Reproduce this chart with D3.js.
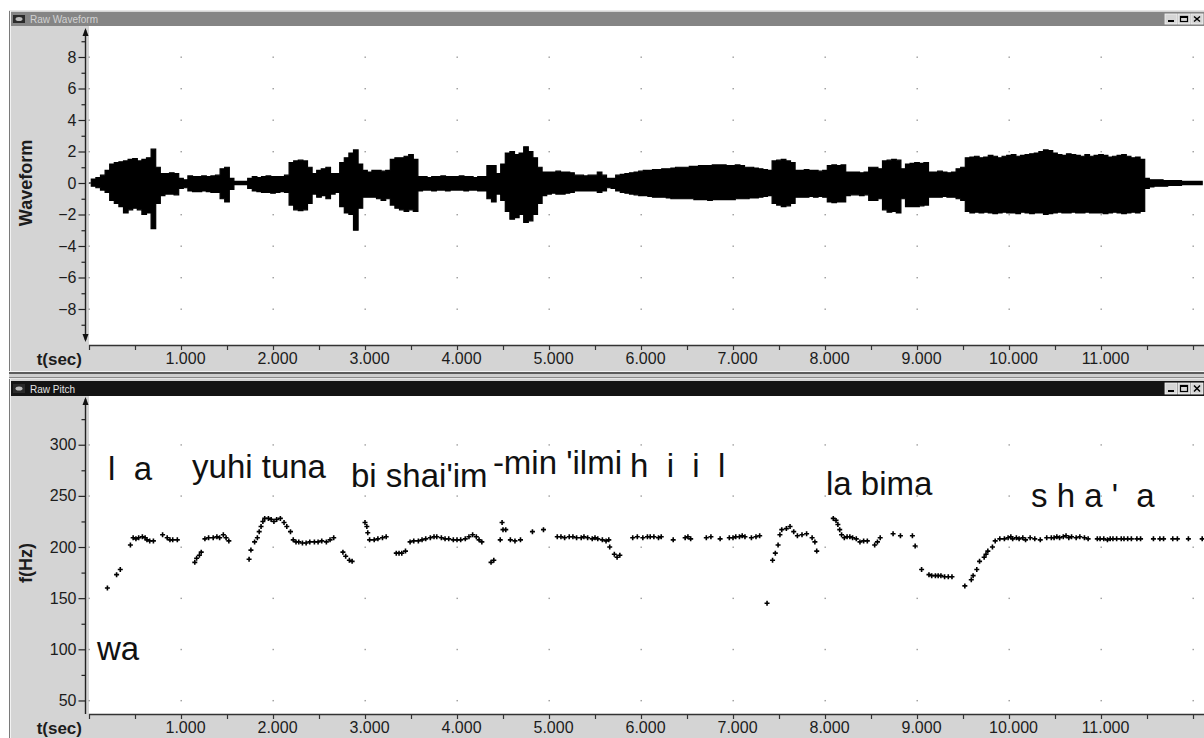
<!DOCTYPE html>
<html>
<head>
<meta charset="utf-8">
<script src="https://cdn.jsdelivr.net/npm/d3@7"></script>
<style>
  html, body { margin: 0; padding: 0; background: #fff; }
  svg { display: block; font-family: "Liberation Sans", Arial, sans-serif; }
  .syll { white-space: pre; }
</style>
</head>
<body>
<svg id="chart" width="1204" height="738"></svg>
<script>
// ---------- data ----------
// waveform envelope, one value every waveStep seconds (positive / negative excursion)
const waveStep = 0.05;
const waveUpper = [
  0, 0.25, 0.35, 0.5, 0.8, 1.2, 1.3, 1.35, 1.4, 1.5,
  1.55, 1.4, 1.5, 1.6, 2.15, 1.0, 0.6, 0.6, 0.65, 0.6,
  0.3, 0.2, 0.45, 0.4, 0.4, 0.45, 0.4, 0.45, 0.5, 0.9,
  1.0, 0.3, 0.1, 0.1, 0.1, 0.3, 0.4, 0.35, 0.4, 0.45,
  0.4, 0.4, 0.4, 0.5, 1.3, 1.4, 1.45, 1.4, 1.0, 0.6,
  0.8, 0.9, 1.0, 0.6, 0.6, 1.3, 1.6, 1.9, 2.1, 1.2,
  0.8, 0.7, 0.8, 0.8, 0.75, 0.8, 1.5, 1.6, 1.6, 1.7,
  1.8, 1.5, 0.4, 0.4, 0.35, 0.4, 0.4, 0.45, 0.4, 0.4,
  0.4, 0.45, 0.4, 0.4, 0.35, 0.4, 0.4, 1.1, 1.1, 0.6,
  1.2, 1.9, 2.0, 1.8, 1.9, 2.3, 2.0, 1.6, 1.0, 0.7,
  0.7, 0.7, 0.75, 0.7, 0.7, 0.65, 0.5, 0.5, 0.45, 0.5,
  0.5, 0.7, 0.5, 0.3, 0.3, 0.5, 0.55, 0.6, 0.65, 0.7,
  0.75, 0.8, 0.8, 0.85, 0.85, 0.9, 0.9, 0.95, 1.0, 1.0,
  1.0, 1.05, 1.05, 1.1, 1.1, 1.1, 1.15, 1.15, 1.15, 1.1,
  1.1, 1.15, 1.1, 1.0, 1.0, 0.95, 0.9, 0.85, 0.8, 1.4,
  1.45, 1.5, 1.4, 1.3, 0.8, 0.8, 0.85, 0.8, 0.8, 0.75,
  0.8, 1.1, 1.15, 1.1, 1.15, 0.7, 0.7, 0.7, 0.65, 0.7,
  1.0, 1.0, 0.9, 1.4, 1.45, 1.5, 1.45, 0.9, 1.2, 1.25,
  1.3, 1.25, 1.3, 0.7, 0.7, 0.75, 0.7, 0.65, 0.7, 0.9,
  1.0, 1.6, 1.65, 1.7, 1.6, 1.65, 1.75, 1.7, 1.6, 1.7,
  1.75, 1.8, 1.7, 1.75, 1.8, 1.85, 1.9, 2.0, 2.1, 2.05,
  1.9, 1.8, 1.75, 1.85, 1.8, 1.75, 1.7, 1.8, 1.7, 1.75,
  1.8, 1.75, 1.65, 1.7, 1.75, 1.8, 1.7, 1.6, 1.65, 1.5,
  0.3, 0.2, 0.2, 0.2, 0.15, 0.15, 0.15, 0.15, 0.1, 0.1,
  0.1, 0.1, 0.1
];
const waveLower = [
  0, 0.2, 0.3, 0.45, 0.6, 1.1, 1.3, 1.5, 1.9, 1.7,
  1.6, 1.7, 2.0, 1.9, 2.9, 1.3, 0.8, 0.7, 0.7, 0.75,
  0.35, 0.3, 0.5, 0.55, 0.55, 0.5, 0.55, 0.6, 0.6, 1.0,
  1.2, 0.4, 0.1, 0.1, 0.1, 0.35, 0.5, 0.55, 0.6, 0.6,
  0.65, 0.6, 0.55, 0.6, 1.4, 1.7, 1.75, 1.7, 1.3, 0.7,
  0.9, 0.8, 1.0, 0.7, 0.6, 1.5, 1.9, 2.0, 3.0, 1.6,
  0.9, 0.9, 0.9, 1.0, 1.1, 1.0, 1.4, 1.6, 1.7, 1.8,
  1.7, 1.8, 0.5, 0.45, 0.45, 0.5, 0.45, 0.45, 0.5, 0.45,
  0.45, 0.45, 0.5, 0.45, 0.45, 0.5, 0.5, 1.0, 1.2, 0.7,
  1.1, 1.8, 2.3, 2.2, 2.0, 2.5, 2.4, 2.0, 1.3, 0.8,
  0.7, 0.65, 0.7, 0.7, 0.65, 0.6, 0.5, 0.5, 0.5, 0.5,
  0.5, 0.6, 0.5, 0.3, 0.35, 0.5, 0.6, 0.65, 0.7, 0.75,
  0.8, 0.8, 0.85, 0.9, 0.9, 0.9, 0.95, 1.0, 1.0, 1.0,
  1.0, 1.0, 1.05, 1.05, 1.05, 1.1, 1.05, 1.05, 1.05, 1.05,
  1.05, 1.0, 1.0, 1.0, 0.95, 0.95, 0.9, 0.85, 0.8, 1.3,
  1.4, 1.5, 1.45, 1.3, 0.9, 0.9, 0.9, 0.85, 0.9, 0.85,
  0.9, 1.2, 1.25, 1.2, 1.2, 0.8, 0.75, 0.75, 0.8, 0.75,
  1.1, 1.1, 1.0, 1.7, 1.85, 1.8, 1.9, 1.0, 1.5, 1.5,
  1.5, 1.45, 1.4, 0.9, 0.9, 0.9, 0.85, 0.9, 0.9, 1.0,
  1.1, 1.8, 1.9, 1.85, 1.9, 1.85, 1.9, 1.95, 1.9, 1.85,
  1.9, 1.9, 1.95, 1.85, 1.9, 1.95, 1.9, 1.9, 2.0, 1.95,
  1.9, 1.85, 1.9, 1.9, 1.85, 1.9, 1.9, 1.85, 1.9, 1.9,
  1.9, 1.95, 1.9, 1.85, 1.9, 1.95, 1.9, 1.85, 1.9, 1.8,
  0.35, 0.25, 0.2, 0.2, 0.2, 0.15, 0.15, 0.15, 0.1, 0.1,
  0.1, 0.1, 0.1
];

// pitch track: time (s) and fundamental frequency (Hz)
const pitchTime = [
  0.20, 0.30, 0.34, 0.45, 0.48, 0.51, 0.54, 0.58, 0.61, 0.63, 0.66, 0.70,
  0.80, 0.85, 0.88, 0.91, 0.96,
  1.15, 1.17, 1.20, 1.22, 1.26, 1.30, 1.35, 1.39, 1.42, 1.46, 1.49, 1.52,
  1.74, 1.76, 1.80, 1.83, 1.85, 1.87, 1.89, 1.91, 1.95, 1.98, 2.01, 2.04, 2.08,
  2.12, 2.15, 2.19, 2.22, 2.25, 2.28, 2.32, 2.36, 2.40, 2.45, 2.49, 2.53, 2.58, 2.62, 2.66,
  2.76, 2.79, 2.83, 2.86,
  3.00, 3.02, 3.03, 3.05, 3.10, 3.14, 3.19, 3.23,
  3.34, 3.37, 3.40, 3.44, 3.49, 3.53, 3.58, 3.62, 3.66, 3.71, 3.75, 3.78, 3.83,
  3.87, 3.91, 3.96, 4.00, 4.04, 4.09, 4.13, 4.17, 4.21, 4.24, 4.27,
  4.37, 4.40,
  4.47, 4.49, 4.50, 4.53, 4.58, 4.63, 4.69, 4.82, 4.94,
  5.09, 5.13, 5.17, 5.22, 5.26, 5.30, 5.35, 5.38, 5.42, 5.47, 5.50, 5.53, 5.58,
  5.62, 5.65, 5.66, 5.71, 5.74, 5.77,
  5.91, 5.96, 6.02, 6.07, 6.10, 6.14, 6.19, 6.22, 6.35, 6.48, 6.51, 6.54,
  6.71, 6.76, 6.86, 6.96, 7.00, 7.03, 7.07, 7.10, 7.13, 7.20, 7.25, 7.29,
  7.37,
  7.43, 7.46, 7.49, 7.51, 7.53, 7.58, 7.62, 7.66, 7.70, 7.75, 7.80, 7.86, 7.89, 7.91,
  8.09, 8.12, 8.14, 8.16, 8.18, 8.21, 8.24, 8.27, 8.30, 8.34, 8.38, 8.42, 8.46,
  8.54, 8.57, 8.60, 8.74, 8.82, 8.95, 8.98,
  9.05, 9.13, 9.16, 9.20, 9.23, 9.26, 9.30, 9.34, 9.38,
  9.52, 9.59, 9.61, 9.65, 9.68, 9.73, 9.75, 9.77, 9.82, 9.85,
  9.90, 9.95, 9.99, 10.02, 10.04, 10.08, 10.11, 10.15, 10.18, 10.23, 10.28, 10.34,
  10.41, 10.46, 10.49, 10.52, 10.55, 10.59, 10.62, 10.65, 10.68, 10.73, 10.77, 10.82, 10.86,
  10.96, 10.99, 11.03, 11.07, 11.10, 11.13, 11.17, 11.22, 11.25, 11.29, 11.33, 11.39, 11.43,
  11.57, 11.64, 11.68, 11.78, 11.83, 11.95, 12.10
];
const pitchHz = [
  160, 173, 178, 202, 209, 208, 209, 210, 209, 207, 206, 206,
  212, 209, 207, 207, 207,
  185, 189, 192, 195, 208, 209, 209, 210, 209, 212, 209, 206,
  188, 197, 205, 209, 215, 220, 225, 228, 228, 227, 225, 227, 228,
  224, 220, 215, 207, 205, 205, 204, 204, 205, 205, 205, 206, 205, 207, 209,
  195, 191, 187, 186,
  224, 220, 214, 207, 207, 208, 209, 210,
  194, 194, 194, 196, 205, 206, 206, 207, 208, 209, 210, 210, 209,
  208, 208, 207, 207, 207, 208, 210, 212, 210, 207, 205,
  185, 187,
  207, 224, 217, 217, 207, 206, 207, 215, 217,
  210, 210, 209, 210, 210, 209, 209, 210, 209, 208, 209, 208, 207,
  206, 207, 200, 193, 190, 192,
  209, 210, 209, 210, 210, 210, 209, 210, 207, 209, 210, 208,
  209, 210, 208, 209, 209, 210, 210, 211, 210, 209, 210, 211,
  145,
  187, 194, 202, 212, 217, 218, 220, 215, 211, 212, 213, 209, 205, 196,
  228, 226, 222, 217, 212, 209, 210, 210, 209, 208, 205, 206, 206,
  202, 205, 209, 213, 211, 211, 201,
  178, 173, 172, 172, 172, 172, 171, 171, 171,
  162, 168, 172, 178, 186, 190, 193, 196, 200, 206,
  208, 208, 209, 210, 208, 209, 208, 209, 207, 209, 208, 207,
  209, 209, 209, 210, 209, 210, 211, 209, 210, 209, 210, 209, 208,
  208, 208, 208, 207, 208, 208, 208, 208, 208, 208, 208, 208, 208,
  208, 208, 208, 208, 208, 208, 208
];

// syllable annotations: text, start time (s), baseline (Hz)
const syllables     = ["l  a", "yuhi tuna", "bi shai'im", "-min 'ilmi", "h  i  i  l", "la bima", "s h a '  a", "wa"];
const syllableTime  = [0.207, 1.120, 2.848, 4.390, 5.880, 8.011, 10.239, 0.087];
const syllableHz    = [265.5, 267.4, 259.0, 271.4, 268.4, 250.8, 239.1, 89.5];

// axis ticks
const timeTicks  = [1, 2, 3, 4, 5, 6, 7, 8, 9, 10, 11];
const timeMinor  = [0, 0.5, 1.5, 2.5, 3.5, 4.5, 5.5, 6.5, 7.5, 8.5, 9.5, 10.5, 11.5, 12];
const gridTimes  = [0, 1, 2, 3, 4, 5, 6, 7, 8, 9, 10, 11, 12];
const waveTicks  = [-8, -6, -4, -2, 0, 2, 4, 6, 8];
const waveMinor  = [-9, -7, -5, -3, -1, 1, 3, 5, 7, 9];
const pitchTicks = [50, 100, 150, 200, 250, 300];
const pitchMinor = [75, 125, 175, 225, 275, 325];

// ---------- layout ----------
const W = 1204, H = 738;
const plotLeft = 89, pxPerSec = 92;
const axisX = 85.5;
const svg = d3.select("#chart");

const x = d3.scaleLinear().domain([0, (W - plotLeft) / pxPerSec]).range([plotLeft, W]);
const yWave = d3.scaleLinear().domain([-10, 10]).range([340.5, 25.5]);
const yPitch = d3.scaleLinear().domain([40, 340]).range([710.7, 403.8]);

const panelGray = "#d4d4d4";

// ---------- window chrome ----------
function drawWindow(g, cfg) {
  // client area
  g.append("rect").attr("x", 9).attr("y", cfg.top).attr("width", W - 9).attr("height", cfg.bottom - cfg.top)
    .attr("fill", panelGray);
  g.append("line").attr("x1", 9.5).attr("x2", 9.5).attr("y1", cfg.top).attr("y2", cfg.bottom)
    .attr("stroke", "#7a7a7a");
  g.append("line").attr("x1", 10.5).attr("x2", 10.5).attr("y1", cfg.top).attr("y2", cfg.bottom)
    .attr("stroke", "#f2f2f2");
  g.append("line").attr("x1", 9).attr("x2", W).attr("y1", cfg.top + 0.5).attr("y2", cfg.top + 0.5)
    .attr("stroke", "#e6e6e6");
  // title bar
  g.append("rect").attr("x", 11).attr("y", cfg.titleY).attr("width", W - 11).attr("height", cfg.titleH)
    .attr("fill", cfg.barColor);
  // window icon
  g.append("rect").attr("x", 13).attr("y", cfg.titleY + 3).attr("width", 12).attr("height", cfg.titleH - 6)
    .attr("fill", "#2a2a2a");
  g.append("ellipse").attr("cx", 19).attr("cy", cfg.titleY + cfg.titleH / 2).attr("rx", 3.5).attr("ry", 2)
    .attr("fill", "#bdbdbd");
  g.append("text").attr("x", 30).attr("y", cfg.titleY + cfg.titleH - 3.5)
    .attr("font-size", 10).attr("fill", cfg.textColor).text(cfg.title);
  // caption buttons
  const bw = 12, by = cfg.titleY + 2, bh = cfg.titleH - 4;
  [W - 39, W - 26, W - 13].forEach((bx, i) => {
    g.append("rect").attr("x", bx).attr("y", by).attr("width", bw).attr("height", bh)
      .attr("fill", "#d6d6d6").attr("stroke", "#f4f4f4").attr("stroke-width", 0.8);
    if (i === 0) {
      g.append("rect").attr("x", bx + 3).attr("y", by + bh - 4).attr("width", 6).attr("height", 2).attr("fill", "#000");
    } else if (i === 1) {
      g.append("rect").attr("x", bx + 2.5).attr("y", by + 2.5).attr("width", 7).attr("height", bh - 5)
        .attr("fill", "none").attr("stroke", "#000").attr("stroke-width", 1.2);
      g.append("line").attr("x1", bx + 2.5).attr("x2", bx + 9.5).attr("y1", by + 3.2).attr("y2", by + 3.2)
        .attr("stroke", "#000").attr("stroke-width", 1.6);
    } else {
      g.append("path").attr("d", `M${bx + 3},${by + 2.5}L${bx + 9},${by + bh - 2.5}M${bx + 9},${by + 2.5}L${bx + 3},${by + bh - 2.5}`)
        .attr("stroke", "#000").attr("stroke-width", 1.5);
    }
  });
  // plot area
  g.append("rect").attr("x", plotLeft).attr("y", cfg.plotTop).attr("width", W - plotLeft)
    .attr("height", cfg.plotBottom - cfg.plotTop).attr("fill", "#fff");
}

const waveWin = svg.append("g");
drawWindow(waveWin, { top: 10, bottom: 371, titleY: 12, titleH: 14, barColor: "#858585", textColor: "#d2d2d2",
  title: "Raw Waveform", plotTop: 26, plotBottom: 345 });

// separator between the two windows
svg.append("rect").attr("x", 9).attr("y", 371).attr("width", W - 9).attr("height", 1).attr("fill", "#f4f4f4");
svg.append("rect").attr("x", 9).attr("y", 372).attr("width", W - 9).attr("height", 2).attr("fill", "#5c5c5c");
svg.append("rect").attr("x", 9).attr("y", 374).attr("width", W - 9).attr("height", 3).attr("fill", "#cfcfcf");
svg.append("rect").attr("x", 9).attr("y", 377).attr("width", W - 9).attr("height", 1).attr("fill", "#8a8a8a");

const pitchWin = svg.append("g");
drawWindow(pitchWin, { top: 378, bottom: H, titleY: 381, titleH: 15, barColor: "#141414", textColor: "#e4e4e4",
  title: "Raw Pitch", plotTop: 396, plotBottom: 714 });

// ---------- shared axis helpers ----------
function gridDots(g, yScale, yValues) {
  const pts = [];
  gridTimes.forEach(t => yValues.forEach(v => pts.push([t, v])));
  g.append("g").selectAll("rect").data(pts).join("rect")
    .attr("x", d => x(d[0]) - 0.5).attr("y", d => yScale(d[1]) - 0.5)
    .attr("width", 1.4).attr("height", 1.4).attr("fill", "#9a9a9a");
}

function yAxis(g, yScale, major, minor, y1, y2, arrowBottom) {
  const ax = g.append("g").attr("transform", `translate(${axisX},0)`)
    .call(d3.axisLeft(yScale).tickValues(major).tickSize(7).tickPadding(2).tickFormat(d3.format("d")));
  ax.select(".domain").remove();
  ax.selectAll(".tick line").attr("stroke", "#222").attr("stroke-width", 1.2);
  ax.selectAll(".tick text").attr("font-size", 16).attr("fill", "#1c1c1c")
    .attr("font-family", "'Liberation Sans', Arial, sans-serif");
  const mi = g.append("g").attr("transform", `translate(${axisX},0)`)
    .call(d3.axisLeft(yScale).tickValues(minor).tickSize(4).tickFormat(""));
  mi.select(".domain").remove();
  mi.selectAll(".tick line").attr("stroke", "#222").attr("stroke-width", 1.2);
  g.append("line").attr("x1", axisX).attr("x2", axisX).attr("y1", y1).attr("y2", y2)
    .attr("stroke", "#222").attr("stroke-width", 1.4);
  g.append("path").attr("d", `M${axisX},${y1 - 2}L${axisX - 3},${y1 + 6}L${axisX + 3},${y1 + 6}Z`).attr("fill", "#111");
  if (arrowBottom) {
    g.append("path").attr("d", `M${axisX},${y2 + 2}L${axisX - 3},${y2 - 6}L${axisX + 3},${y2 - 6}Z`).attr("fill", "#111");
  }
}

function xAxis(g, yPos) {
  g.append("line").attr("x1", plotLeft).attr("x2", W).attr("y1", yPos + 0.5).attr("y2", yPos + 0.5)
    .attr("stroke", "#333").attr("stroke-width", 1.4);
  const ax = g.append("g").attr("transform", `translate(0,${yPos})`)
    .call(d3.axisBottom(x).tickValues(timeTicks).tickSize(5).tickPadding(3).tickFormat(d3.format(".3f")));
  ax.select(".domain").remove();
  ax.selectAll(".tick line").attr("stroke", "#333").attr("stroke-width", 1.2);
  ax.selectAll(".tick text").attr("font-size", 16).attr("fill", "#1c1c1c").attr("dx", 4)
    .attr("font-family", "'Liberation Sans', Arial, sans-serif");
  const mi = g.append("g").attr("transform", `translate(0,${yPos})`)
    .call(d3.axisBottom(x).tickValues(timeMinor).tickSize(5).tickFormat(""));
  mi.select(".domain").remove();
  mi.selectAll(".tick line").attr("stroke", "#333").attr("stroke-width", 1.2);
  g.append("text").attr("x", 82).attr("y", yPos + 20).attr("text-anchor", "end")
    .attr("font-size", 17).attr("font-weight", "bold").attr("fill", "#1c1c1c").text("t(sec)");
}

// ---------- waveform panel ----------
const gw = svg.append("g");
gridDots(gw, yWave, waveTicks);
const waveData = waveUpper.map((u, i) => ({ t: i * waveStep, u, l: waveLower[i] }));
gw.append("path").datum(waveData)
  .attr("d", d3.area().x(d => x(d.t)).y0(d => yWave(-d.l)).y1(d => yWave(d.u)).curve(d3.curveStep))
  .attr("fill", "#000").attr("stroke", "#000").attr("stroke-width", 1.2);
yAxis(gw, yWave, waveTicks, waveMinor, 30, 340, true);
xAxis(gw, 345);
gw.append("text").attr("transform", "translate(32,183) rotate(-90)").attr("text-anchor", "middle")
  .attr("font-size", 18).attr("font-weight", "bold").attr("fill", "#1c1c1c").text("Waveform");

// ---------- pitch panel ----------
const gp = svg.append("g");
gridDots(gp, yPitch, pitchTicks);
const pitchData = pitchTime.map((t, i) => ({ t, f: pitchHz[i] }));
gp.append("g").selectAll("path").data(pitchData).join("path")
  .attr("transform", d => `translate(${x(d.t)},${yPitch(d.f)})`)
  .attr("d", "M-2.5,0H2.5M0,-2.5V2.5")
  .attr("stroke", "#000").attr("stroke-width", 1.6).attr("fill", "none");
gp.append("g").selectAll("text").data(syllables).join("text")
  .attr("class", "syll")
  .attr("x", (d, i) => x(syllableTime[i])).attr("y", (d, i) => yPitch(syllableHz[i]))
  .attr("font-size", 33).attr("fill", "#111").text(d => d);
yAxis(gp, yPitch, pitchTicks, pitchMinor, 399, 714, false);
xAxis(gp, 714);
gp.append("text").attr("transform", "translate(32,563) rotate(-90)").attr("text-anchor", "middle")
  .attr("font-size", 18).attr("font-weight", "bold").attr("fill", "#1c1c1c").text("f(Hz)");
</script>
</body>
</html>
